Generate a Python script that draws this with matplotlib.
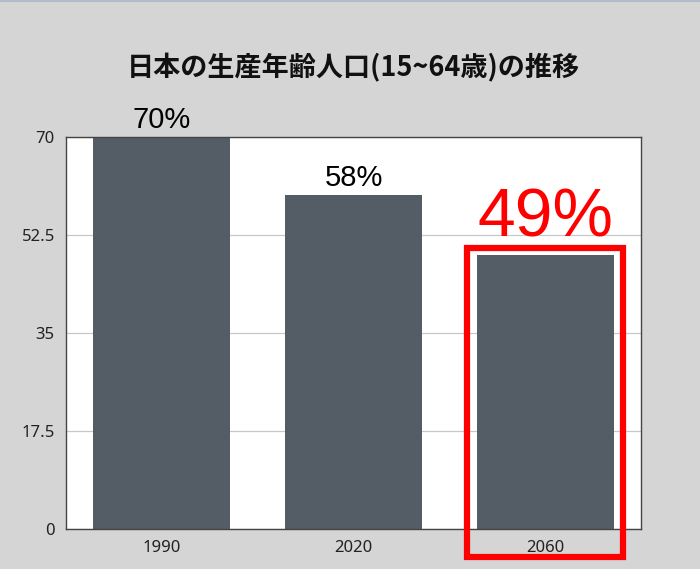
import matplotlib.pyplot as plt
from matplotlib.patches import Rectangle
from matplotlib.lines import Line2D

plt.rcParams['font.family'] = ['Noto Sans CJK JP', 'DejaVu Sans']

# データ
years = ["1990", "2020", "2060"]
values = [70, 59.6, 48.9]
labels = ["70%", "58%", "49%"]
yticks = [0, 17.5, 35, 52.5, 70]
highlight = 2  # 強調する棒 (2060)

fig = plt.figure(figsize=(7, 5.69), dpi=100, facecolor="#d5d5d5")
ax = fig.add_axes([66 / 700, 40 / 569, 575 / 700, 392 / 569])
ax.set_facecolor("white")

x = range(len(years))
bars = ax.bar(x, values, width=0.715, color="#545d66", zorder=2)

ax.set_xlim(-0.5, len(years) - 0.5)
ax.set_ylim(0, 70)
ax.set_yticks(yticks)
ax.set_yticklabels(["0", "17.5", "35", "52.5", "70"])
ax.set_xticks(list(x))
ax.set_xticklabels(years)
ax.tick_params(length=0, labelsize=12, colors="#222222", pad=8)
for t in ax.get_xticklabels() + ax.get_yticklabels():
    t.set_family(["Noto Sans", "DejaVu Sans"])
ax.grid(axis="y", color="#c8c8c8", linewidth=0.9, zorder=0)
for s in ax.spines.values():
    s.set_color("#444444")
    s.set_linewidth(1.0)

# 棒の上の値
for i, (v, lab) in enumerate(zip(values, labels)):
    if i == highlight:
        ax.text(i, v + 0.9, lab, ha="center", va="bottom", fontsize=49,
                color="#ff0000", family=["Liberation Sans", "DejaVu Sans"])
    else:
        ax.text(i, v + 0.5, lab, ha="center", va="bottom", fontsize=21,
                color="black", family=["Liberation Sans", "DejaVu Sans"])

# 2060年の赤枠
b = bars[highlight]
pad = (b.get_width() * 0.07)
rect = Rectangle((b.get_x() - pad, -5.0), b.get_width() + 2 * pad, values[highlight] + 6.3,
                 fill=False, edgecolor="#ff0000", linewidth=4.5, clip_on=False, zorder=5)
ax.add_patch(rect)

fig.text(353 / 700, 1 - 68 / 569, "日本の生産年齢人口(15~64歳)の推移", ha="center", va="center",
         fontsize=19.5, fontweight="bold", color="#111111")

# 上端の細い線
fig.add_artist(Line2D([0, 1], [0.998, 0.998], transform=fig.transFigure, color="#b4bccb", linewidth=1.5))

fig.savefig("out.png", dpi=100, facecolor=fig.get_facecolor())
